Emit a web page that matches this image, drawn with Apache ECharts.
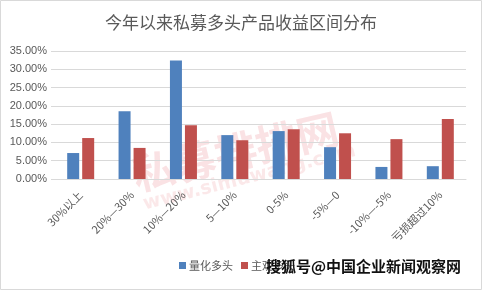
<!DOCTYPE html>
<html><head><meta charset="utf-8">
<script src="https://cdn.jsdelivr.net/npm/echarts@6/dist/echarts.min.js"></script>
<style>html,body{margin:0;padding:0;background:#fff}#c{width:482px;height:290px}</style>
</head><body><div id="c"></div>
<script>
const categories = ['30%以上','20%—30%','10%—20%','5—10%','0-5%','-5%—0','-10%—-5%','亏损超过10%'];
const quantLong = [7.1, 18.5, 32.4, 12.0, 13.1, 8.7, 3.3, 3.5];
const subjLong = [11.2, 8.5, 14.7, 10.6, 13.6, 12.5, 10.9, 16.4];
const seriesNames = ['量化多头','主观多头'];
const yTicks = [0,5,10,15,20,25,30,35];

const chart = echarts.init(document.getElementById('c'));
chart.setOption({
  animation:false,
  title:{text:'今年以来私募多头产品收益区间分布',left:'center',top:9,
    textStyle:{fontSize:17,fontWeight:'normal',color:'#595959',fontFamily:'Noto Sans CJK SC'}},
  graphic:[
    {type:'rect',shape:{x:0.5,y:0.5,width:481,height:289},style:{fill:'none',stroke:'#d9d9d9',lineWidth:1},z:-1},
    {type:'text',x:138,y:196,rotation:0.23,style:{text:'私募排排网',fontSize:42,fontWeight:'bold',verticalAlign:'bottom',fill:'rgba(232,110,120,0.2)',fontFamily:'Noto Sans CJK SC'},z:-1},
    {type:'text',x:146,y:214,rotation:0.25,style:{text:'www.simuwang.com',fontSize:19,fontWeight:'bold',verticalAlign:'bottom',fill:'rgba(232,110,120,0.16)',fontFamily:'DejaVu Sans'},z:-1},
    {type:'text',left:266,top:259,style:{text:'搜狐号@中国企业新闻观察网',fontSize:15,fontWeight:'bold',fill:'#111',fontFamily:'Noto Sans CJK SC'},z:100}
  ],
  legend:{bottom:14,left:174,itemWidth:7,itemHeight:7,itemGap:8,icon:'rect',
    textStyle:{fontSize:11,color:'#595959',fontFamily:'Noto Sans CJK SC',padding:[0,0,0,-2]},
    data:seriesNames},
  grid:{left:55,right:16,top:51,bottom:111,containLabel:false},
  xAxis:{type:'category',data:categories,
    axisLine:{lineStyle:{color:'#d9d9d9'}},axisTick:{show:false},
    axisLabel:{rotate:45,interval:0,fontSize:11,color:'#595959',fontFamily:'Noto Sans CJK SC',margin:14}},
  yAxis:{type:'value',min:0,max:35,interval:5,
    axisLine:{show:false},axisTick:{show:true,length:4,lineStyle:{color:'#d9d9d9'}},
    splitLine:{lineStyle:{color:'#d9d9d9'}},
    axisLabel:{formatter:v=>yTicks.includes(v)?v.toFixed(2)+'%':'',fontSize:11,color:'#595959',fontFamily:'Liberation Sans',margin:8}},
  series:[
    {name:seriesNames[0],type:'bar',data:quantLong,barWidth:12,barGap:'25%',itemStyle:{color:'#4F81BD'}},
    {name:seriesNames[1],type:'bar',data:subjLong,barWidth:12,itemStyle:{color:'#C0504D'}}
  ]
});
</script></body></html>
